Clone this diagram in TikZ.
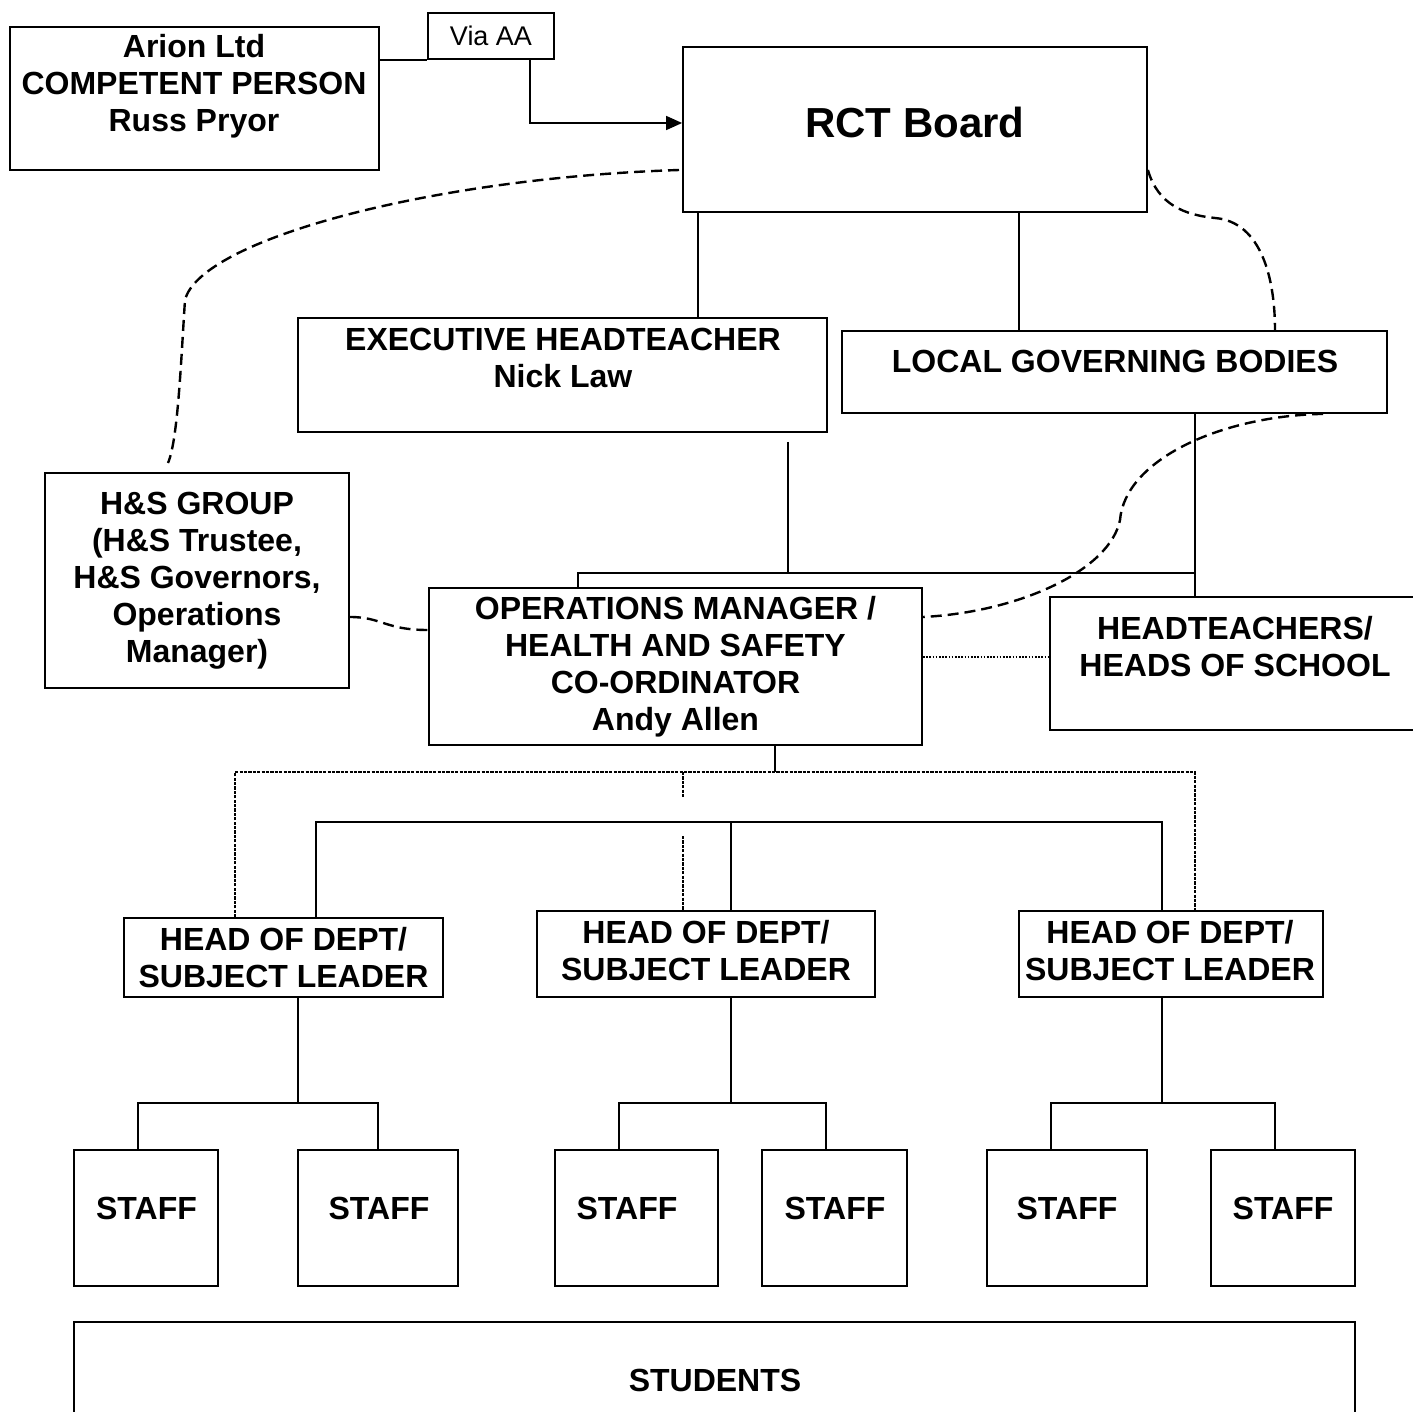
\documentclass[tikz,border=0pt]{standalone}
\usepackage{fontspec}
\setmainfont{Liberation Sans}
\usetikzlibrary{arrows.meta}

\begin{document}
\begin{tikzpicture}[x=0.5pt, y=-0.5pt,
          box/.style = {draw, line width=0.9pt, inner sep=0pt, align=center,
                        font=\bfseries\fontsize{16}{18.5}\selectfont},
          txt/.style = {inner sep=0pt, align=center,
                        font=\bfseries\fontsize{16}{18.5}\selectfont},
         link/.style = {line width=0.8pt},
        loose/.style = {line width=1.2pt, dash pattern=on 5.5pt off 3pt},
         fine/.style = {line width=0.8pt, dash pattern=on 1.6pt off 0.6pt},
         dots/.style = {line width=0.9pt, dash pattern=on 0.8pt off 0.8pt}
                                ]
        \useasboundingbox (0,0) rectangle (1413,1412);
        % top row
        \node[box, minimum width=184.5pt, minimum height=71.5pt] (arion) at (194.5,98.5) {};
        \node[txt] (arion-t) at (194,86) {Arion Ltd\\COMPETENT PERSON\\Russ Pryor};
        \node[box, minimum width=63pt, minimum height=23pt,
              font=\fontsize{13.5}{15}\selectfont] (via) at (491,36) {Via AA};
        \node[box, minimum width=232pt, minimum height=82.5pt] (rct) at (915,129.5) {};
        \node[txt, font=\bfseries\fontsize{21}{24}\selectfont] (rct-t) at (915,122) {RCT Board};

        % second row
        \node[box, minimum width=264.5pt, minimum height=57pt] (exec) at (562.5,375) {};
        \node[txt] (exec-t) at (563,358) {EXECUTIVE HEADTEACHER\\Nick Law};
        \node[box, minimum width=272.5pt, minimum height=41pt] (lgb) at (1114.5,372) {};
        \node[txt] (lgb-t) at (1115,361) {LOCAL GOVERNING BODIES};

        % middle row
        \node[box, minimum width=152pt, minimum height=107.5pt] (hs) at (197,580.5)
            {H\&S GROUP\\(H\&S Trustee,\\H\&S Governors,\\Operations\\Manager)};
        \node[box, minimum width=246.5pt, minimum height=78.5pt] (ops) at (675.5,666.5)
            {OPERATIONS MANAGER /\\HEALTH AND SAFETY\\CO-ORDINATOR\\Andy Allen};
        \node[box, minimum width=190pt, minimum height=66.5pt] (heads) at (1240,663.5) {};
        \node[txt] (heads-t) at (1235,647) {HEADTEACHERS/\\HEADS OF SCHOOL};

        % departments
        \node[box, minimum width=159.5pt, minimum height=39.5pt] (hod1) at (283.5,957.5)
            {HEAD OF DEPT/\\SUBJECT LEADER};
        \node[box, minimum width=169pt, minimum height=43pt] (hod2) at (706,954) {};
        \node[txt] (hod2-t) at (706,951) {HEAD OF DEPT/\\SUBJECT LEADER};
        \node[box, minimum width=152pt, minimum height=43pt] (hod3) at (1171,954) {};
        \node[txt] (hod3-t) at (1170,951) {HEAD OF DEPT/\\SUBJECT LEADER};

        % staff and students
        \foreach \n/\x/\tx/\w in {s1/146/146.5/72, s2/378/379/80, s3/636.5/627/81.5,
                                  s4/834.5/835/72.5, s5/1067/1067/80, s6/1283/1283/72}{
            \node[box, minimum width=\w pt, minimum height=68pt] (\n) at (\x,1218) {};
            \node[txt] (\n-t) at (\tx,1208) {STAFF};
        }
        \node[box, minimum width=640.5pt, minimum height=59pt] (stud) at (714.5,1381) {};
        \node[txt] (stud-t) at (715,1380) {STUDENTS};

        % solid links
        \draw[link] (arion.east |- via.south) -- (via.south west);
        \draw[link, -{Triangle[length=8pt,width=7pt]}]
            (via.south -| 530,0) |- (rct.west |- 0,123);
        \draw[link] (rct.south -| 698,0) -- (exec.north -| 698,0);
        \draw[link] (rct.south -| 1019,0) -- (lgb.north -| 1019,0);
        \draw[link] ([yshift=-4.5pt]exec.south -| 788,0) -- (788,573);
        \draw[link] (ops.north -| 578,0) |- (1195,573);
        \draw[link] (lgb.south -| 1195,0) -- (heads.north -| 1195,0);
        \draw[link] (hod1.north -| 316,0) |- (1162,822) -- (hod3.north -| 1162,0);
        \draw[link] (731,822) -- (hod2.north -| 731,0);
        \draw[link] (ops.south -| 775,0) -- (775,772);
        \foreach \h/\a/\b/\xh/\xa/\xb in {hod1/s1/s2/298/138/378,
                                          hod2/s3/s4/731/619/826,
                                          hod3/s5/s6/1162/1051/1275}{
            \draw[link] (\h.south -| \xh,0) -- (\xh,1103);
            \draw[link] (\a.north -| \xa,0) -- (\xa,1103) -- (\xb,1103) -- (\b.north -| \xb,0);
        }

        % dotted links
        \draw[dots] (ops.east |- 0,657) -- (heads.west |- 0,657);
        \draw[fine] (hod1.north -| 235,0) |- (1195,772) -- (hod3.north -| 1195,0);
        \draw[fine] (683,772) -- (683,798)
                    (683,836) -- (hod2.north -| 683,0);

        % dashed curves
        \draw[loose] (679,170) .. controls (430,178) and (200,240) .. (185,300)
                     .. controls (181,360) and (178,440) .. (168,463);
        \draw[loose] (rct.east |- 0,170) .. controls (1158,205) and (1185,215) .. (1215,218)
                     .. controls (1262,222) and (1275,280) .. (lgb.north -| 1275,0);
        \draw[loose] (hs.east |- 0,617) .. controls (382,617) and (385,630) .. (ops.west |- 0,630);
        \draw[loose] (lgb.south -| 1323,0) .. controls (1220,416) and (1125,460) .. (1120,520)
                     .. controls (1110,570) and (1020,612) .. (ops.east |- 0,617);
\end{tikzpicture}
\end{document}
